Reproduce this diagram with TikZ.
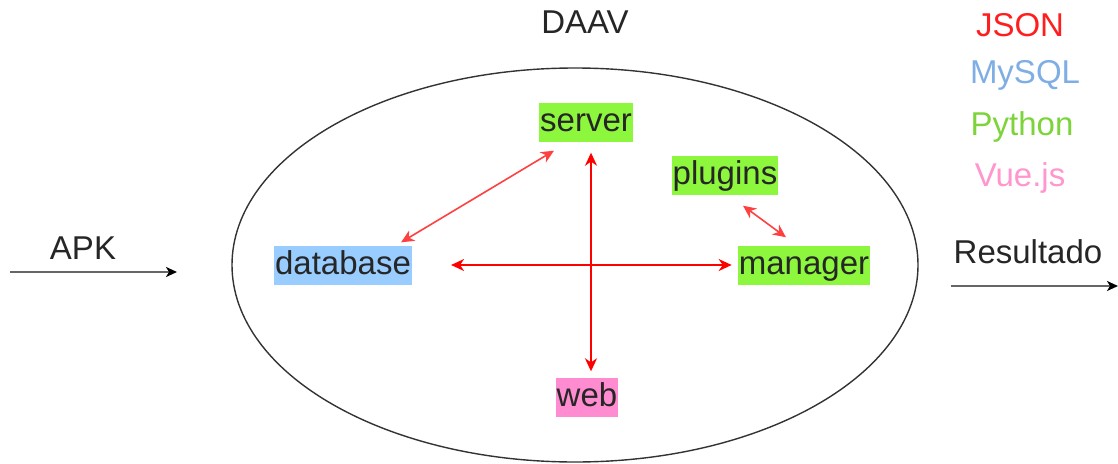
\documentclass[tikz,border=0pt]{standalone}
\usepackage{fontspec}
\setmainfont{Liberation Sans}
\usetikzlibrary{arrows.meta}
\definecolor{pygreen}{RGB}{140,247,60}
\definecolor{sqlblue}{RGB}{153,204,255}
\definecolor{vuepink}{RGB}{255,140,208}
\definecolor{txtred}{RGB}{255,30,30}
\definecolor{txtblue}{RGB}{126,174,228}
\definecolor{txtgreen}{RGB}{124,212,58}
\definecolor{txtpink}{RGB}{255,150,205}
\tikzset{
	lbl/.style={font=\fontsize{33}{39}\selectfont, text=black!85, inner sep=0pt},
	mod/.style={lbl, text height=25pt, text depth=7pt, inner xsep=1pt, inner ysep=3.5pt},
	link/.style={red, line width=1.6pt, {Stealth[length=13pt,width=12pt,inset=4pt]}-{Stealth[length=13pt,width=12pt,inset=4pt]}},
	flow/.style={black!60, line width=1.8pt, -{Stealth[length=11pt,width=10pt,inset=3pt,black]}}
}

\begin{document}
\begin{tikzpicture}[x=1pt,y=-1pt]
		%%%%% START %%%%%
		\useasboundingbox (0,0) rectangle (1118,463);
		
		\draw[black!80, line width=1.4pt] (575,265) ellipse [x radius=343pt, y radius=197pt];
		\node[lbl] (daav) at (585,22) {DAAV};
		
		\node[mod, fill=pygreen] (srv) at (586,122) {server};
		\node[mod, fill=sqlblue] (db) at (343,265) {database};
		\node[mod, fill=pygreen] (plg) at (725,175) {plugins};
		\node[mod, fill=pygreen] (mgr) at (804,265) {manager};
		\node[mod, fill=vuepink] (web) at (587,397) {web};
		
		\draw[link, red!75] ([shift={(-11,-3)}]db.north east) -- ([shift={(15,9)}]srv.south west);
		\draw[link, shorten <=11pt, shorten >=6pt] ([xshift=5pt]srv.south) -- ([xshift=4pt]web.north);
		\draw[link, shorten <=39pt, shorten >=6pt] (db.east) -- (mgr.west);
		\draw[link, red!75] ([shift={(18,11)}]plg.south) -- ([shift={(-18,-8)}]mgr.north);
		
		\node[lbl] (apk) at (83,248) {APK};
		\coordinate (in0) at (10,272);
		\coordinate (in1) at (177,272);
		\draw[flow] (in0) -- (in1);
		
		\node[lbl] (res) at (1028,252) {Resultado};
		\coordinate (out0) at (951,286);
		\coordinate (out1) at (1118,286);
		\draw[flow] (out0) -- (out1);
		
		\node[lbl, text=txtred] (json) at (1020,25) {JSON};
		\node[lbl, text=txtblue] (mysql) at (1025,75) {MySQL};
		\node[lbl, text=txtgreen] (py) at (1022,127) {Python};
		\node[lbl, text=txtpink] (vue) at (1020,178) {Vue.js};
		%%%%% END %%%%%
	\end{tikzpicture}
\end{document}
